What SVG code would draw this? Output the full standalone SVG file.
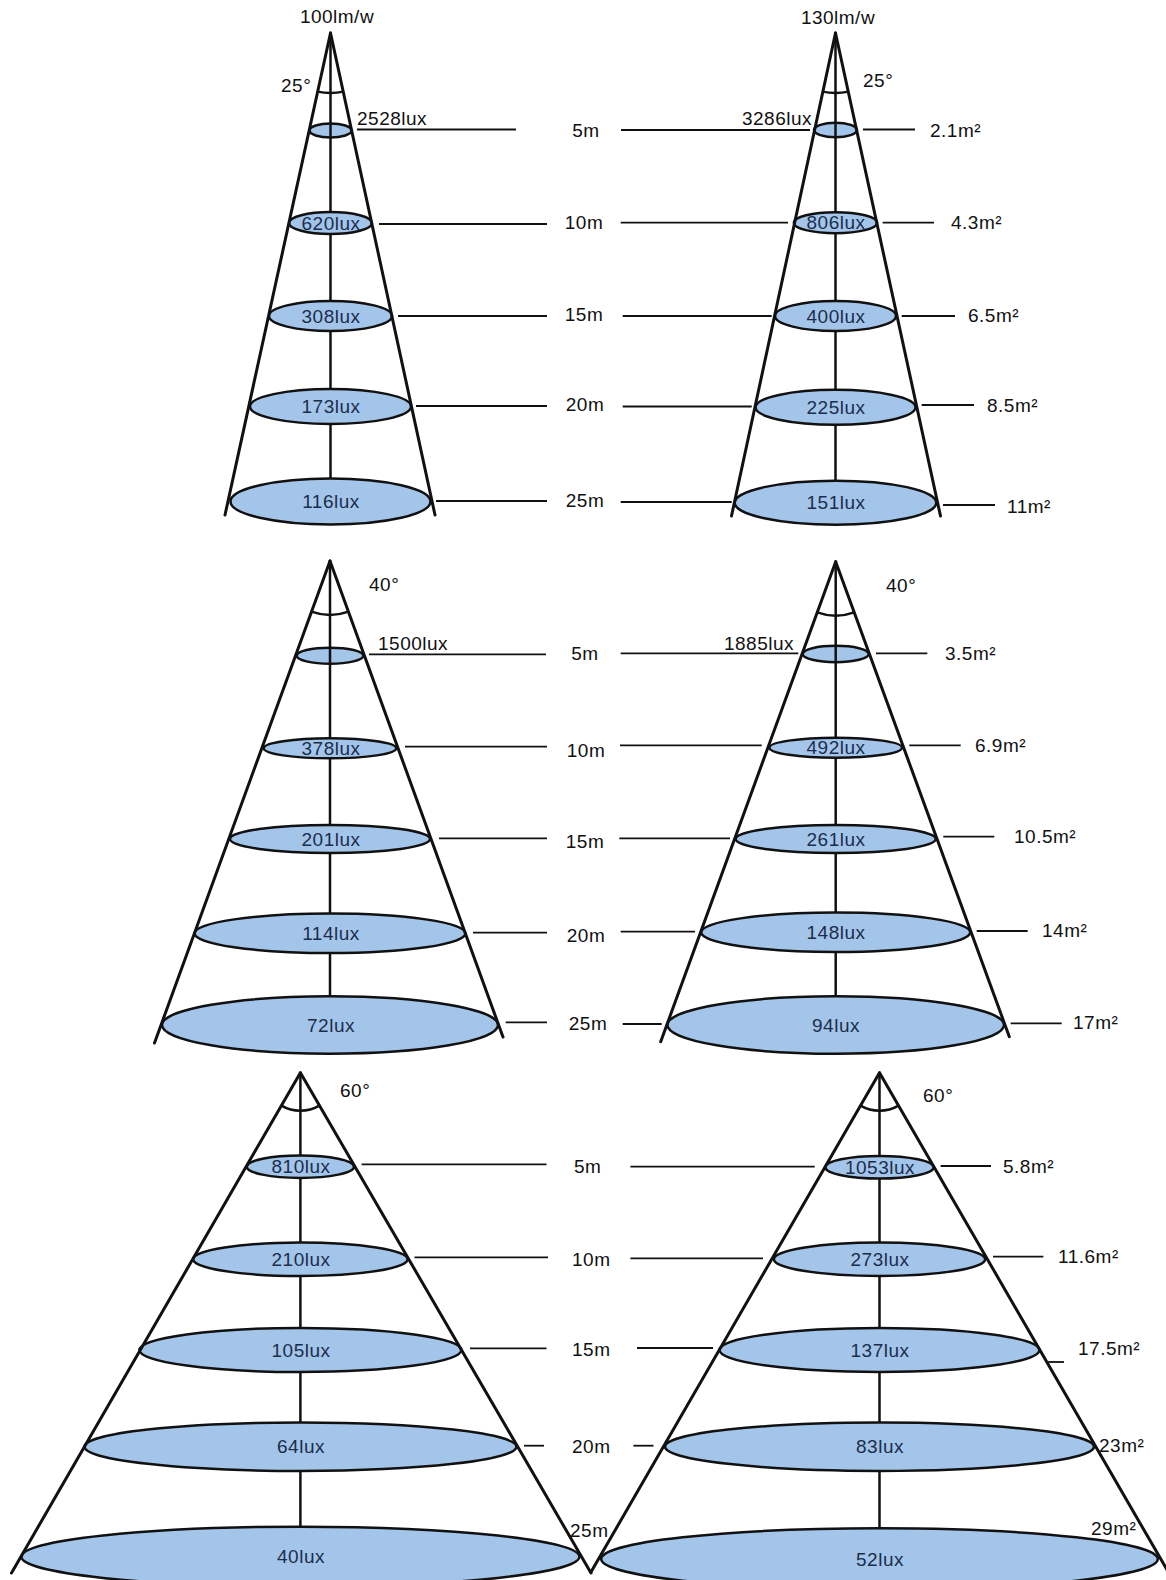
<svg xmlns="http://www.w3.org/2000/svg" width="1166" height="1580" viewBox="0 0 1166 1580">
<style>
.cone{stroke:#111;stroke-width:3;fill:none;stroke-linecap:round}
.axis{stroke:#111;stroke-width:2.5;fill:none}
.arc{stroke:#111;stroke-width:2.5;fill:none}
.spot{fill:#a3c5ea;stroke:#111;stroke-width:2.5}
.lead{stroke:#111;stroke-width:1.8;fill:none}
text{font-family:"Liberation Sans",Arial,sans-serif;font-size:19px;letter-spacing:0.5px;fill:#111}
.in{fill:#1c2d4c;text-anchor:middle}
.mid{text-anchor:middle}
.end{text-anchor:end}
</style>
<rect width="1166" height="1580" fill="#fff"/>

<!-- Top-left 25° 100lm/w -->
<g id="cone-25-100">
<line class="axis" x1="330.5" y1="33" x2="330.5" y2="501"/>
<ellipse class="spot" cx="330.5" cy="130.5" rx="21" ry="7"/>
<line class="axis" x1="330.5" y1="123" x2="330.5" y2="138"/>
<ellipse class="spot" cx="330.5" cy="223" rx="41.5" ry="11"/>
<ellipse class="spot" cx="330.5" cy="316" rx="61.5" ry="15"/>
<ellipse class="spot" cx="330.5" cy="406.5" rx="80.5" ry="17.5"/>
<ellipse class="spot" cx="330.5" cy="501.5" rx="100" ry="23"/>
<line class="cone" x1="330.5" y1="33" x2="225" y2="515"/>
<line class="cone" x1="330.5" y1="33" x2="435" y2="515"/>
<path class="arc" d="M317.5 91.6 A60 60 0 0 0 343.5 91.6"/>
<text class="mid" x="337" y="23">100lm/w</text>
<text x="281" y="92">25°</text>
<text x="357" y="125">2528lux</text>
<text class="in" x="331" y="229.5">620lux</text>
<text class="in" x="331" y="322.5">308lux</text>
<text class="in" x="331" y="413">173lux</text>
<text class="in" x="331" y="508">116lux</text>
</g>

<!-- Top-right 25° 130lm/w -->
<g id="cone-25-130">
<line class="axis" x1="835.5" y1="33" x2="835.5" y2="502"/>
<ellipse class="spot" cx="835.5" cy="130" rx="21.5" ry="7.3"/>
<line class="axis" x1="835.5" y1="122" x2="835.5" y2="138"/>
<ellipse class="spot" cx="835.5" cy="222.7" rx="41.7" ry="10.5"/>
<ellipse class="spot" cx="835.5" cy="316" rx="60.5" ry="15"/>
<ellipse class="spot" cx="835.5" cy="407.3" rx="80" ry="17.5"/>
<ellipse class="spot" cx="835.5" cy="502.7" rx="100.8" ry="22"/>
<line class="cone" x1="835.5" y1="33" x2="731.5" y2="516"/>
<line class="cone" x1="835.5" y1="33" x2="940.5" y2="516"/>
<path class="arc" d="M822.5 91.6 A60 60 0 0 0 848.5 91.6"/>
<text class="mid" x="838" y="24">130lm/w</text>
<text x="863" y="87">25°</text>
<text class="end" x="812" y="125">3286lux</text>
<text class="in" x="836" y="229">806lux</text>
<text class="in" x="836" y="322.5">400lux</text>
<text class="in" x="836" y="414">225lux</text>
<text class="in" x="836" y="509">151lux</text>
<text x="930" y="137">2.1m²</text>
<text x="951" y="229">4.3m²</text>
<text x="968" y="322">6.5m²</text>
<text x="987" y="412">8.5m²</text>
<text x="1007" y="513">11m²</text>
</g>

<!-- Middle-left 40° -->
<g id="cone-40-left">
<line class="axis" x1="330" y1="561" x2="330" y2="1025"/>
<ellipse class="spot" cx="330" cy="655.7" rx="33.3" ry="8"/>
<line class="axis" x1="330" y1="647" x2="330" y2="664"/>
<ellipse class="spot" cx="330" cy="748.3" rx="66.3" ry="10"/>
<ellipse class="spot" cx="330" cy="839" rx="100" ry="14"/>
<ellipse class="spot" cx="330" cy="933.3" rx="135.5" ry="19.7"/>
<ellipse class="spot" cx="330" cy="1025" rx="168" ry="28.7"/>
<line class="cone" x1="330" y1="561" x2="154.5" y2="1043"/>
<line class="cone" x1="330" y1="561" x2="503" y2="1037"/>
<path class="arc" d="M311.5 611.7 A54 54 0 0 0 348.5 611.7"/>
<text x="369" y="591">40°</text>
<text x="378" y="650">1500lux</text>
<text class="in" x="331" y="754.5">378lux</text>
<text class="in" x="331" y="845.5">201lux</text>
<text class="in" x="331" y="940">114lux</text>
<text class="in" x="331" y="1031.5">72lux</text>
</g>

<!-- Middle-right 40° -->
<g id="cone-40-right">
<line class="axis" x1="835.7" y1="561.7" x2="835.7" y2="1025"/>
<ellipse class="spot" cx="835.7" cy="654" rx="33" ry="8.2"/>
<line class="axis" x1="835.7" y1="645" x2="835.7" y2="663"/>
<ellipse class="spot" cx="835.7" cy="747.7" rx="66.3" ry="10"/>
<ellipse class="spot" cx="835.7" cy="839" rx="100" ry="14"/>
<ellipse class="spot" cx="835.7" cy="932.3" rx="134.5" ry="19.7"/>
<ellipse class="spot" cx="835.7" cy="1025" rx="168.3" ry="28.7"/>
<line class="cone" x1="835.7" y1="561.7" x2="660.7" y2="1041.7"/>
<line class="cone" x1="835.7" y1="561.7" x2="1009.3" y2="1036.7"/>
<path class="arc" d="M817.2 612.4 A54 54 0 0 0 854.2 612.4"/>
<text x="886" y="592">40°</text>
<text class="end" x="794" y="650">1885lux</text>
<text class="in" x="836" y="754">492lux</text>
<text class="in" x="836" y="845.5">261lux</text>
<text class="in" x="836" y="939">148lux</text>
<text class="in" x="836" y="1031.5">94lux</text>
<text x="945" y="660">3.5m²</text>
<text x="975" y="752">6.9m²</text>
<text x="1014" y="843">10.5m²</text>
<text x="1042" y="937">14m²</text>
<text x="1073" y="1029">17m²</text>
</g>

<!-- Bottom-left 60° -->
<g id="cone-60-left">
<line class="axis" x1="300.4" y1="1072.7" x2="300.4" y2="1556"/>
<ellipse class="spot" cx="300.4" cy="1166.7" rx="53.6" ry="11.2"/>
<ellipse class="spot" cx="300.4" cy="1259.3" rx="107.2" ry="16.7"/>
<ellipse class="spot" cx="300.4" cy="1350" rx="161" ry="22"/>
<ellipse class="spot" cx="300.4" cy="1446.7" rx="216" ry="24.2"/>
<ellipse class="spot" cx="300.4" cy="1556.7" rx="279" ry="30"/>
<line class="cone" x1="300.4" y1="1072.7" x2="11.5" y2="1573"/>
<line class="cone" x1="300.4" y1="1072.7" x2="591" y2="1573"/>
<path class="arc" d="M281.4 1105.6 A38 38 0 0 0 319.4 1105.6"/>
<text x="340" y="1097">60°</text>
<text class="in" x="301" y="1173">810lux</text>
<text class="in" x="301" y="1266">210lux</text>
<text class="in" x="301" y="1356.5">105lux</text>
<text class="in" x="301" y="1453">64lux</text>
<text class="in" x="301" y="1563">40lux</text>
</g>

<!-- Bottom-right 60° -->
<g id="cone-60-right">
<line class="axis" x1="879.5" y1="1072.7" x2="879.5" y2="1558"/>
<ellipse class="spot" cx="879.5" cy="1167.3" rx="54.2" ry="11.3"/>
<ellipse class="spot" cx="879.5" cy="1259.3" rx="105.6" ry="16.7"/>
<ellipse class="spot" cx="879.5" cy="1350" rx="160" ry="22"/>
<ellipse class="spot" cx="879.5" cy="1446.7" rx="214.5" ry="24.2"/>
<ellipse class="spot" cx="879.5" cy="1559" rx="278.3" ry="30.7"/>
<line class="cone" x1="879.5" y1="1072.7" x2="591" y2="1572"/>
<line class="cone" x1="879.5" y1="1072.7" x2="1170" y2="1575"/>
<path class="arc" d="M860.5 1105.6 A38 38 0 0 0 898.5 1105.6"/>
<text x="923" y="1102">60°</text>
<text class="in" x="880" y="1174">1053lux</text>
<text class="in" x="880" y="1266">273lux</text>
<text class="in" x="880" y="1356.5">137lux</text>
<text class="in" x="880" y="1453">83lux</text>
<text class="in" x="880" y="1565.5">52lux</text>
<text x="1003" y="1173">5.8m²</text>
<text x="1058" y="1263">11.6m²</text>
<text x="1078" y="1355">17.5m²</text>
<text x="1099" y="1452">23m²</text>
<text x="1091" y="1535">29m²</text>
</g>

<!-- Distance labels -->
<g id="distances">
<text class="mid" x="586" y="137">5m</text>
<text class="mid" x="584" y="229">10m</text>
<text class="mid" x="584" y="321">15m</text>
<text class="mid" x="585" y="411">20m</text>
<text class="mid" x="585" y="507">25m</text>
<text class="mid" x="585" y="660">5m</text>
<text class="mid" x="586" y="757">10m</text>
<text class="mid" x="585" y="848">15m</text>
<text class="mid" x="586" y="942">20m</text>
<text class="mid" x="588" y="1030">25m</text>
<text x="574" y="1173">5m</text>
<text x="572" y="1266">10m</text>
<text x="572" y="1356">15m</text>
<text x="572" y="1453">20m</text>
<text x="570" y="1537">25m</text>
</g>

<!-- Leader lines -->
<g id="connectors">
<line class="lead" x1="357" y1="129.5" x2="516" y2="129.5"/>
<line class="lead" x1="621" y1="130" x2="810" y2="130"/>
<line class="lead" x1="863" y1="129.5" x2="915" y2="129.5"/>
<line class="lead" x1="379" y1="224" x2="547" y2="224"/>
<line class="lead" x1="620.7" y1="222.7" x2="788" y2="222.7"/>
<line class="lead" x1="882.7" y1="222.7" x2="934" y2="222.7"/>
<line class="lead" x1="398" y1="316" x2="547" y2="316"/>
<line class="lead" x1="622.7" y1="316" x2="771.7" y2="316"/>
<line class="lead" x1="901.7" y1="316" x2="955" y2="316"/>
<line class="lead" x1="416" y1="406" x2="547" y2="406"/>
<line class="lead" x1="622.7" y1="406.5" x2="751.7" y2="406.5"/>
<line class="lead" x1="921.7" y1="405" x2="974" y2="405"/>
<line class="lead" x1="436" y1="501" x2="547" y2="501"/>
<line class="lead" x1="620.7" y1="502" x2="731.7" y2="502"/>
<line class="lead" x1="943" y1="505" x2="995" y2="505"/>

<line class="lead" x1="369" y1="654.3" x2="546" y2="654.3"/>
<line class="lead" x1="620.7" y1="653.3" x2="798.3" y2="653.3"/>
<line class="lead" x1="876" y1="653.3" x2="927.3" y2="653.3"/>
<line class="lead" x1="405" y1="746.7" x2="547" y2="746.7"/>
<line class="lead" x1="620" y1="745.3" x2="761.7" y2="745.3"/>
<line class="lead" x1="909.3" y1="745.3" x2="960.7" y2="745.3"/>
<line class="lead" x1="439" y1="838.3" x2="547" y2="838.3"/>
<line class="lead" x1="619.3" y1="838.3" x2="730" y2="838.3"/>
<line class="lead" x1="943.3" y1="836.7" x2="994.3" y2="836.7"/>
<line class="lead" x1="473" y1="932.7" x2="547" y2="932.7"/>
<line class="lead" x1="620.7" y1="931.7" x2="695" y2="931.7"/>
<line class="lead" x1="976.7" y1="931" x2="1027.7" y2="931"/>
<line class="lead" x1="505.7" y1="1022.3" x2="547" y2="1022.3"/>
<line class="lead" x1="622.7" y1="1024" x2="661.7" y2="1024"/>
<line class="lead" x1="1010.7" y1="1023.3" x2="1061.7" y2="1023.3"/>

<line class="lead" x1="361.6" y1="1164.3" x2="546.5" y2="1164.3"/>
<line class="lead" x1="630.4" y1="1166.7" x2="814.7" y2="1166.7"/>
<line class="lead" x1="940.6" y1="1166" x2="991" y2="1166"/>
<line class="lead" x1="414.5" y1="1257.3" x2="548" y2="1257.3"/>
<line class="lead" x1="630.4" y1="1258.3" x2="763" y2="1258.3"/>
<line class="lead" x1="993" y1="1256.7" x2="1043.4" y2="1256.7"/>
<line class="lead" x1="470" y1="1348.3" x2="546.5" y2="1348.3"/>
<line class="lead" x1="637" y1="1348" x2="713" y2="1348"/>
<line class="lead" x1="1048" y1="1362" x2="1064" y2="1362"/>
<line class="lead" x1="524" y1="1445.7" x2="544" y2="1445.7"/>
<line class="lead" x1="633.4" y1="1445.7" x2="653.5" y2="1445.7"/>
</g>
</svg>
